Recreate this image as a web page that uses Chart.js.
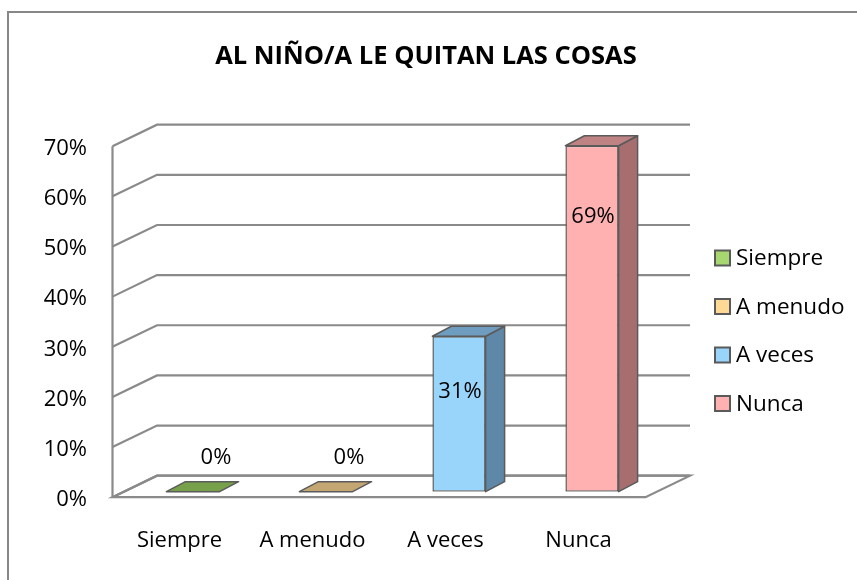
<!DOCTYPE html>
<html><head><meta charset="utf-8">
<script src="https://cdn.jsdelivr.net/npm/chart.js@4/dist/chart.umd.min.js"></script>
<style>html,body{margin:0;padding:0;background:#fff;overflow:hidden}#wrap{width:857px;height:580px}</style>
</head><body><div id="wrap"><canvas id="c" width="857" height="580"></canvas></div>
<script>
// ---- data ----
const categories = ['Siempre', 'A menudo', 'A veces', 'Nunca'];
const percentages = [0, 0, 31, 69];
const yTickValues = [0, 10, 20, 30, 40, 50, 60, 70];
const titleText = 'AL NIÑO/A LE QUITAN LAS COSAS';
// ---- styles ----
const frontColors = ['#a8d770', '#fed995', '#99d5fb', '#ffb0b0'];
const sideColors  = ['#6c9442', '#b0966a', '#5f87a7', '#a66e6e'];
const topColors   = ['#77a04b', '#c4a673', '#6e9dc0', '#bf8383'];
const edgeColor = '#5b5b5b';
const wallColor = '#8a8a8a';
const FONT = "'Open Sans', sans-serif";

Chart.defaults.font.family = FONT;
Chart.defaults.color = '#000';

const DEPTH_BAR = {dx: 19, dy: -10};

const framePlugin = {
  id: 'frame',
  beforeDraw(chart) {
    const ctx = chart.ctx;
    ctx.save();
    ctx.fillStyle = '#fff';
    ctx.fillRect(0, 0, chart.width, chart.height);
    ctx.strokeStyle = '#878787';
    ctx.lineWidth = 2;
    ctx.beginPath();
    ctx.moveTo(8, chart.height);
    ctx.lineTo(8, 12);
    ctx.lineTo(chart.width, 12);
    ctx.stroke();
    ctx.restore();
  }
};

const wallsPlugin = {
  id: 'walls',
  beforeDatasetsDraw(chart) {
    const ctx = chart.ctx, a = chart.chartArea, ys = chart.scales.y;
    const fL = a.left - 14, bL = a.left + 30.5, bR = a.right + 31.5, fR = a.right - 13;
    const back = v => ys.getPixelForValue(v) - 16;
    const front = v => back(v) + 21.5;
    ctx.save();
    ctx.strokeStyle = wallColor;
    ctx.lineWidth = 2.2;
    // floor
    ctx.beginPath();
    ctx.moveTo(fL, front(0));
    ctx.lineTo(bL, back(0));
    ctx.lineTo(bR, back(0));
    ctx.lineTo(fR, front(0));
    ctx.closePath();
    ctx.stroke();
    // grid lines on back wall and left wall
    const vmax = yTickValues[yTickValues.length - 1];
    yTickValues.forEach(v => {
      ctx.beginPath();
      ctx.moveTo(fL, front(v));
      ctx.lineTo(bL, back(v));
      ctx.lineTo(bR, back(v));
      ctx.stroke();
    });
    ctx.beginPath();
    ctx.moveTo(fL, front(vmax));
    ctx.lineTo(fL, front(0));
    ctx.stroke();
    ctx.restore();
  }
};

const barsPlugin = {
  id: 'bars3d',
  afterDatasetsDraw(chart) {
    const ctx = chart.ctx, ys = chart.scales.y;
    const meta = chart.getDatasetMeta(0);
    const {dx, dy} = DEPTH_BAR;
    ctx.save();
    ctx.strokeStyle = edgeColor;
    ctx.lineWidth = 1.5;
    ctx.lineJoin = 'round';
    meta.data.forEach((el, i) => {
      const p = el.getProps(['x', 'y', 'base', 'width'], true);
      const l = p.x - p.width / 2, r = p.x + p.width / 2;
      const top = Math.min(p.y, p.base), bot = Math.max(p.y, p.base);
      if (bot - top > 0.5) {
        ctx.fillStyle = sideColors[i];
        ctx.beginPath();
        ctx.moveTo(r, top); ctx.lineTo(r + dx, top + dy);
        ctx.lineTo(r + dx, bot + dy); ctx.lineTo(r, bot); ctx.closePath();
        ctx.fill(); ctx.stroke();
      }
      ctx.fillStyle = topColors[i];
      ctx.beginPath();
      ctx.moveTo(l, top); ctx.lineTo(l + dx, top + dy);
      ctx.lineTo(r + dx, top + dy); ctx.lineTo(r, top); ctx.closePath();
      ctx.fill(); ctx.stroke();
    });
    // data labels
    ctx.fillStyle = '#000';
    ctx.font = '22px ' + FONT;
    ctx.textAlign = 'center';
    ctx.textBaseline = 'middle';
    meta.data.forEach((el, i) => {
      const v = percentages[i];
      const p = el.getProps(['x', 'y', 'base'], true);
      let x, y;
      if (v === 0) { x = p.x + 23; y = p.base - 34; }
      else { x = p.x + 1; y = ys.getPixelForValue(v * 0.918 - 8.6); }
      ctx.fillText(v + '%', x, y);
    });
    ctx.restore();
  }
};

const legendPlugin = {
  id: 'sideLegend',
  afterDraw(chart) {
    const ctx = chart.ctx;
    const x0 = 715, y0 = 258, step = 48.5, box = 15;
    ctx.save();
    ctx.font = '22.5px ' + FONT;
    ctx.textAlign = 'left';
    ctx.textBaseline = 'middle';
    categories.forEach((c, i) => {
      const cy = y0 + i * step;
      ctx.fillStyle = frontColors[i];
      ctx.fillRect(x0, cy - box / 2, box, box);
      ctx.strokeStyle = '#5a5a5a';
      ctx.lineWidth = 2;
      ctx.strokeRect(x0, cy - box / 2, box, box);
      ctx.fillStyle = '#000';
      ctx.fillText(c, x0 + box + 6, cy + 1);
    });
    ctx.restore();
  }
};

new Chart(document.getElementById('c'), {
  type: 'bar',
  data: {
    labels: categories,
    datasets: [{
      data: percentages,
      backgroundColor: frontColors,
      borderColor: edgeColor,
      borderWidth: 1.5,
      borderSkipped: false,
      barPercentage: 0.4,
      categoryPercentage: 1
    }]
  },
  options: {
    responsive: false,
    animation: false,
    devicePixelRatio: 1,
    layout: {padding: {left: 0, right: 5, top: 0, bottom: 0}},
    plugins: {
      legend: {display: false},
      tooltip: {enabled: false},
      title: {
        display: true,
        text: titleText,
        color: '#000',
        font: {family: FONT, size: 25.5, weight: 'bold', lineHeight: 1.2},
        padding: {top: 41, bottom: 69.1}
      }
    },
    scales: {
      x: {
        grid: {display: false, drawTicks: false},
        border: {display: false},
        ticks: {font: {size: 22}, color: '#000', padding: 36, labelOffset: -13.5, maxRotation: 0},
        afterFit: s => { s.height = 88.3; }
      },
      y: {
        min: 0, max: 70,
        grid: {display: false, drawTicks: false},
        border: {display: false},
        ticks: {stepSize: 10, font: {size: 22}, color: '#000', padding: 39.5, labelOffset: 8,
                callback: v => v + '%'},
        afterFit: s => { s.width = 126.5; }
      },
      yRight: {
        position: 'right',
        display: true,
        grid: {display: false, drawTicks: false},
        border: {display: false},
        ticks: {display: false},
        afterFit: s => { s.width = 193.5; }
      }
    }
  },
  plugins: [framePlugin, wallsPlugin, barsPlugin, legendPlugin]
});
</script>
</body></html>
